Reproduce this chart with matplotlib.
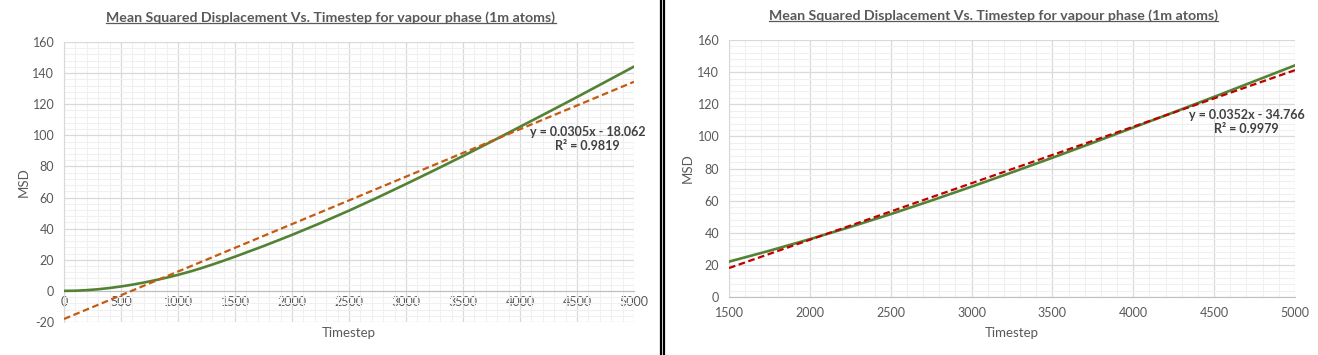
import matplotlib
matplotlib.use("Agg")
import matplotlib.pyplot as plt
from matplotlib.ticker import MultipleLocator
from matplotlib.lines import Line2D
import numpy as np

plt.rcParams['font.family'] = ['Lato', 'DejaVu Sans']
plt.rcParams['axes.unicode_minus'] = False

# ---- data ----
timestep = [0, 100, 200, 300, 400, 500, 600, 700, 800, 900, 1000,
            1100, 1200, 1300, 1400, 1500, 1750, 2000, 2250, 2500, 2750,
            3000, 3250, 3500, 3750, 4000, 4250, 4500, 4750, 5000]
msd = [0, 0.12, 0.48, 1.05, 1.85, 2.85, 4.0, 5.35, 6.85, 8.5, 10.3,
       12.3, 14.5, 16.9, 19.4, 22.0, 28.8, 36.0, 43.6, 51.6, 60.0,
       68.7, 77.6, 86.7, 96.0, 105.5, 115.0, 124.6, 134.4, 144.2]

# trendline coefficients as printed on the chart
left_fit = [0.0305, -18.062]
left_r2 = 0.9819
right_fit = [0.0352, -34.766]
right_r2 = 0.9979

title = "Mean Squared Displacement Vs. Timestep for vapour phase (1m atoms)"
xlabel = "Timestep"
ylabel = "MSD"

GREEN = "#548235"
ORANGE = "#C55A11"
RED = "#C00000"
TXT = "#595959"
MAJ = "#D9D9D9"
MIN = "#F0F0F0"

W, H = 1318, 355
fig = plt.figure(figsize=(W / 100, H / 100), dpi=100)


def fx(px):
    return px / W


def fy(py):
    return 1 - py / H


def style(ax, xlim, ylim, xmaj, ymaj):
    ax.set_xlim(*xlim)
    ax.set_ylim(*ylim)
    ax.xaxis.set_major_locator(MultipleLocator(xmaj))
    ax.xaxis.set_minor_locator(MultipleLocator(xmaj / 5))
    ax.yaxis.set_major_locator(MultipleLocator(ymaj))
    ax.yaxis.set_minor_locator(MultipleLocator(ymaj / 5))
    ax.grid(which='minor', color=MIN, lw=0.8, zorder=0)
    ax.grid(which='major', color=MAJ, lw=0.9, zorder=0)
    ax.set_axisbelow(True)
    for s in ['top', 'right']:
        ax.spines[s].set_visible(False)
    ax.spines['left'].set_color(MAJ)
    ax.spines['bottom'].set_color("#BFBFBF")
    ax.tick_params(which='both', length=0, colors=TXT, labelsize=9)
    ax.tick_params(axis='y', pad=7)
    ax.tick_params(axis='x', pad=4)


# ---------- left chart ----------
L0, L1, LT, LB = 64, 634, 42, 322
axL = fig.add_axes([fx(L0), fy(LB), fx(L1 - L0), (LB - LT) / H])
style(axL, (0, 5000), (-20, 160), 500, 20)
axL.spines['bottom'].set_position(('data', 0))
axL.plot(timestep, msd, color=GREEN, lw=1.9, zorder=3)
tl = np.array([0, 5000])
axL.plot(tl, left_fit[0] * tl + left_fit[1], color=ORANGE, lw=1.6,
         ls=(0, (3, 1.6)), zorder=4)
axL.set_xlabel(xlabel, color=TXT, fontsize=9.5, va='center')
axL.xaxis.set_label_coords(0.5, (LB - 333) / (LB - LT))
axL.set_ylabel(ylabel, color=TXT, fontsize=9.5, va='center')
axL.yaxis.set_label_coords((24 - L0) / (L1 - L0), 0.5)
fig.text(fx(588), fy(132), f"y = {left_fit[0]}x - {abs(left_fit[1])}",
         ha='center', va='center', fontsize=9, fontweight='bold', color="#404040")
fig.text(fx(587), fy(146), f"R² = {left_r2}",
         ha='center', va='center', fontsize=9, fontweight='bold', color="#404040")

# ---------- right chart ----------
R0, R1, RT, RB = 729, 1295, 40, 297
axR = fig.add_axes([fx(R0), fy(RB), fx(R1 - R0), (RB - RT) / H])
style(axR, (1500, 5000), (0, 160), 500, 20)
axR.plot(timestep, msd, color=GREEN, lw=1.9, zorder=3)
tr = np.array([1500, 5000])
axR.plot(tr, right_fit[0] * tr + right_fit[1], color=RED, lw=1.6,
         ls=(0, (3, 1.6)), zorder=4)
axR.tick_params(axis='x', pad=7)
axR.set_xlabel(xlabel, color=TXT, fontsize=9.5, va='center')
axR.xaxis.set_label_coords(0.5, (RB - 333) / (RB - RT))
axR.set_ylabel(ylabel, color=TXT, fontsize=9.5, va='center')
axR.yaxis.set_label_coords((688 - R0) / (R1 - R0), 0.5)
fig.text(fx(1247), fy(115), f"y = {right_fit[0]}x - {abs(right_fit[1])}",
         ha='center', va='center', fontsize=9, fontweight='bold', color="#404040")
fig.text(fx(1246), fy(129), f"R² = {right_r2}",
         ha='center', va='center', fontsize=9, fontweight='bold', color="#404040")

# ---------- titles (underlined) ----------
titles = []
for cx, cy in ((331, 18), (993, 16)):
    t = fig.text(fx(cx), fy(cy), title, ha='center', va='center',
                 fontsize=10.2, fontweight='bold', color=TXT)
    titles.append(t)

# divider lines
for x in (660.5, 663.5):
    fig.add_artist(Line2D([fx(x), fx(x)], [0, 1], color='black', lw=1.6))

fig.canvas.draw()
r = fig.canvas.get_renderer()
for t in titles:
    bb = t.get_window_extent(renderer=r)
    yline = bb.y0 + 1
    fig.add_artist(Line2D([bb.x0 / W, bb.x1 / W], [yline / H, yline / H],
                          color=TXT, lw=0.9))

fig.savefig("out.png", dpi=100)
